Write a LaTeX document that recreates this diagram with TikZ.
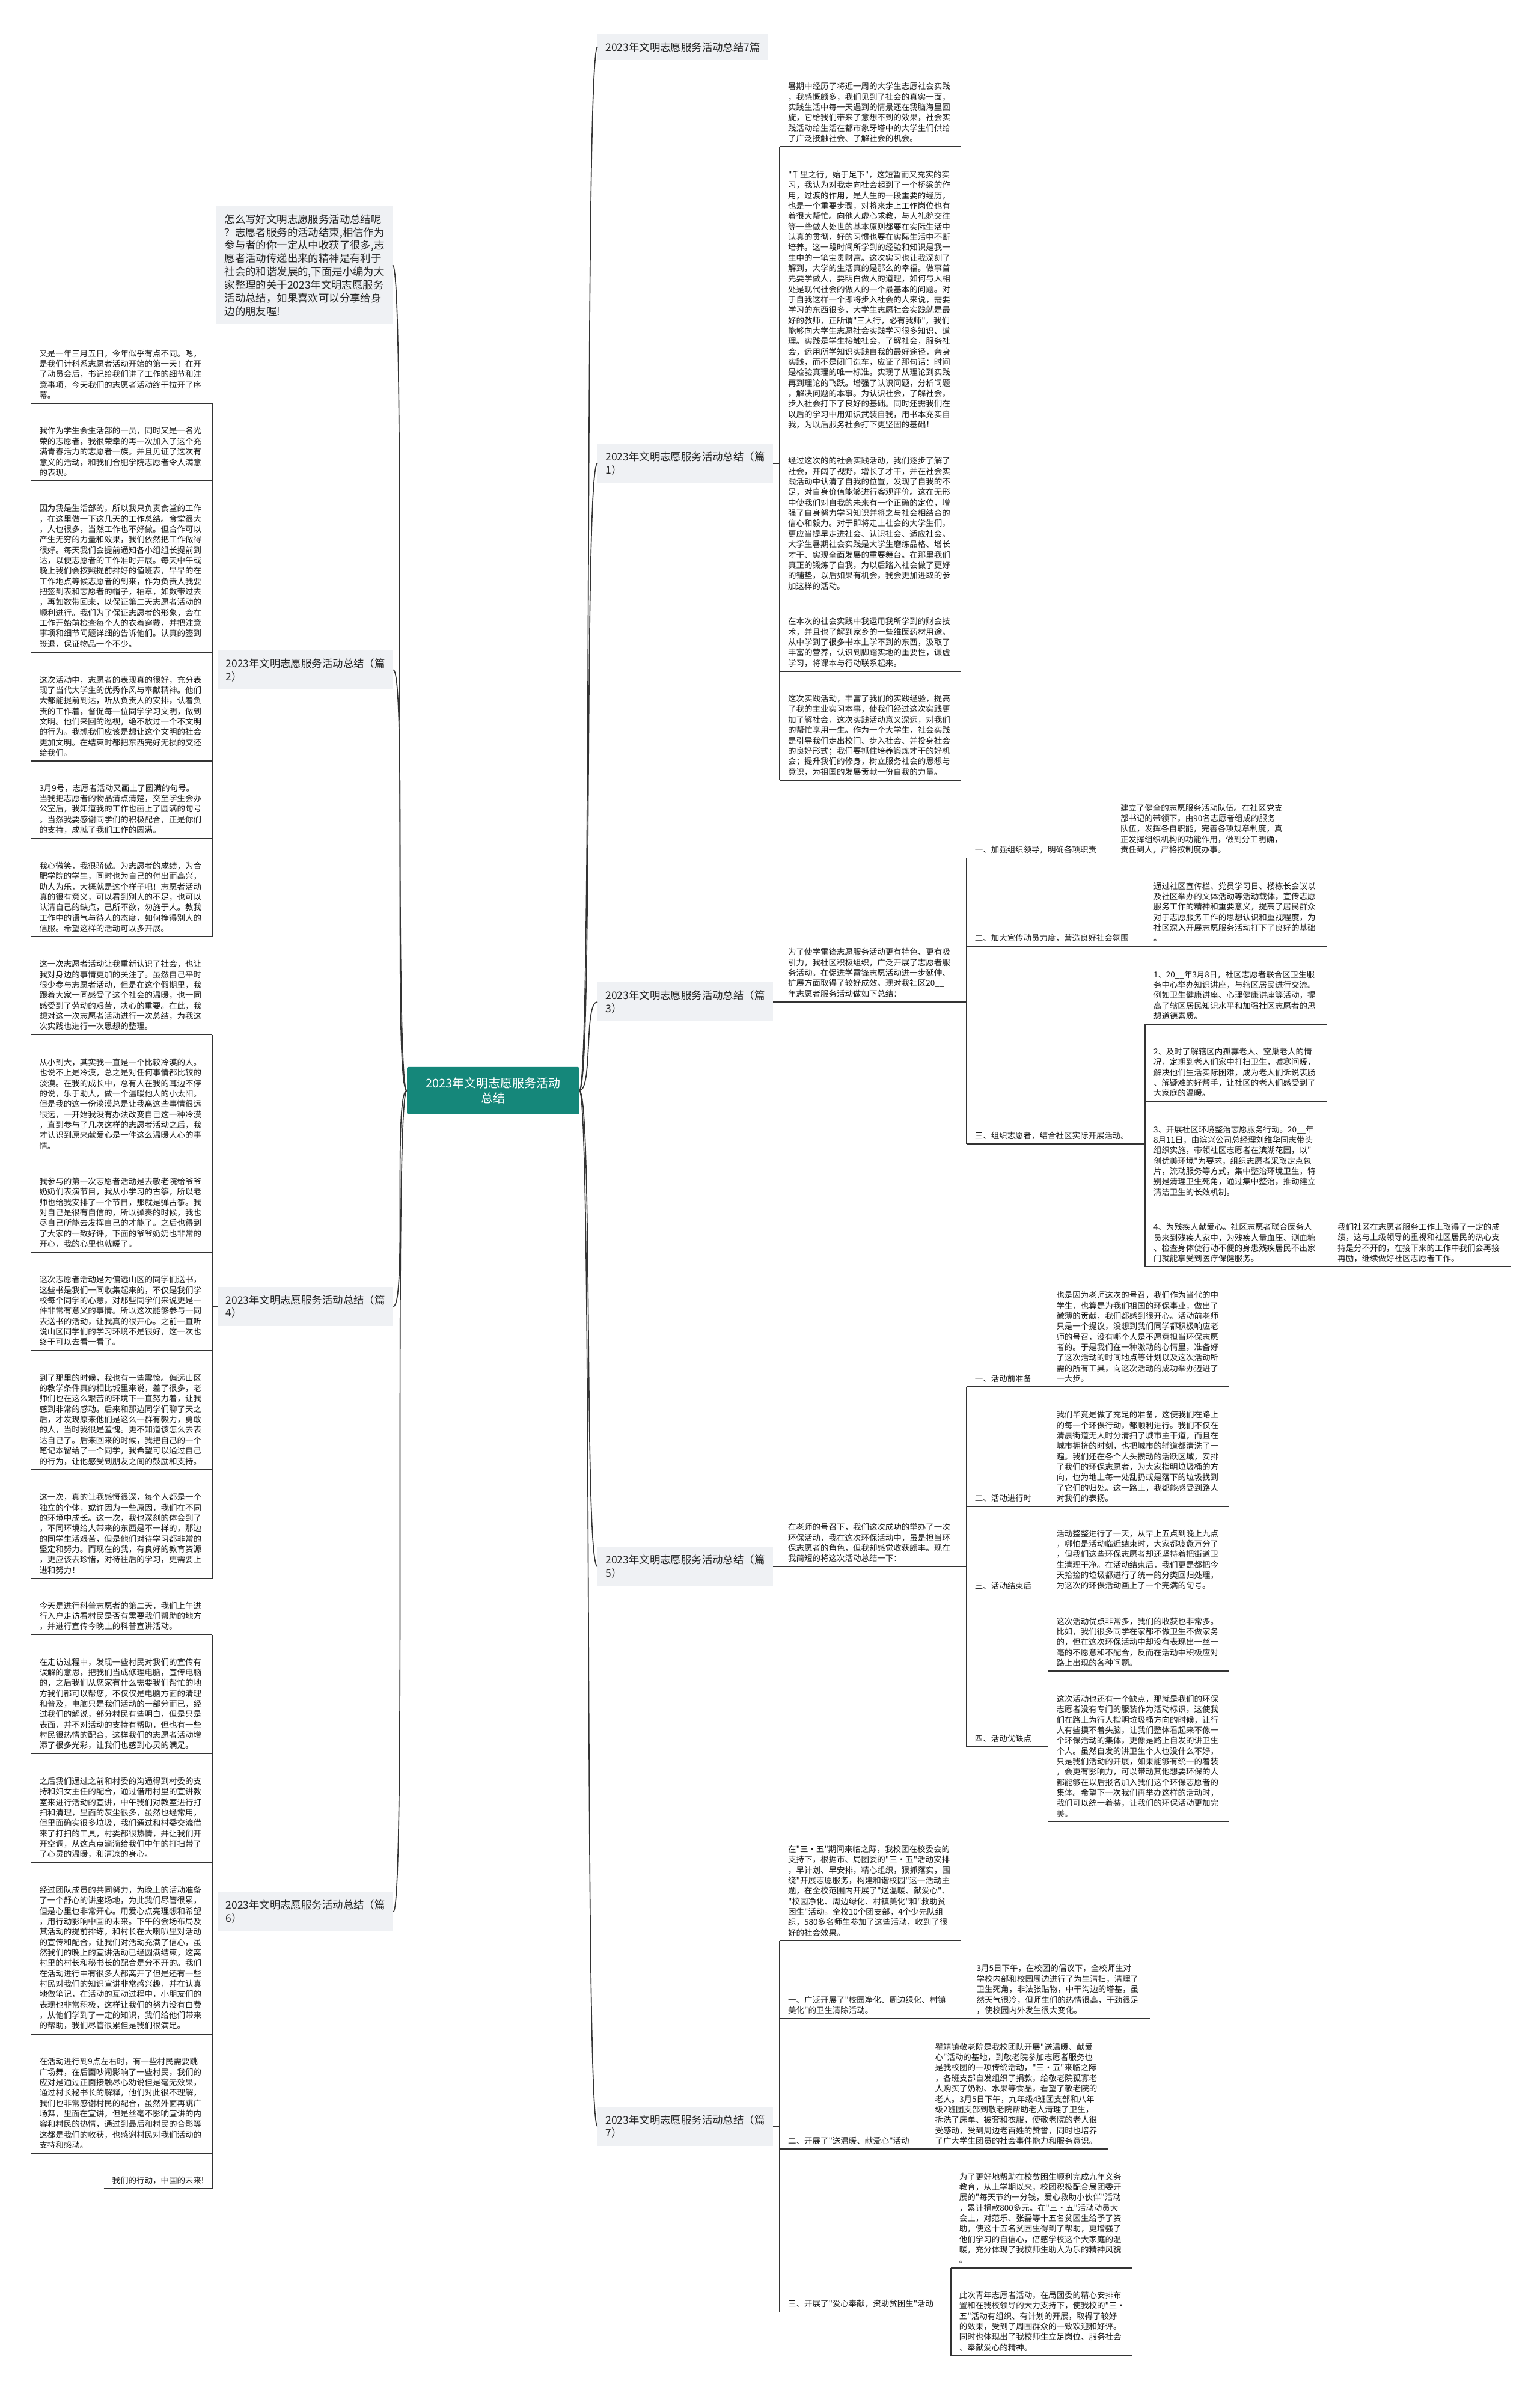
\documentclass[tikz,border=0pt]{standalone}
\usepackage{fontspec}
\newfontfamily\zhfont{Noto Sans CJK SC}
\usepackage{xcolor}
\definecolor{rootTeal}{HTML}{15877A}
\definecolor{topicGray}{HTML}{EFF1F4}
\colorlet{lineCol}{black!80}
\usetikzlibrary{positioning, calc}

\begin{document}
\begin{tikzpicture}[x=0.07604cm, y=-0.07604cm,
    root/.style={fill=rootTeal, text=white, rounded corners=2pt, align=center,
      minimum width=8.59cm, minimum height=2.36cm,
      font=\zhfont\fontsize{17pt}{22pt}\selectfont},
    topic/.style={fill=topicGray, text=black!85, align=left,
      inner xsep=0.4cm, inner ysep=0.4cm,
      font=\zhfont\fontsize{14.85pt}{18.7pt}\selectfont},
    leaf/.style={text width=8.21cm, align=left, inner xsep=0.418cm, inner ysep=6pt,
      text=black!90, font=\zhfont\fontsize{11.5pt}{14.8pt}\selectfont},
    sub/.style={align=left, inner xsep=0.418cm, inner ysep=6pt,
      text=black!90, font=\zhfont\fontsize{11.5pt}{14.8pt}\selectfont},
    conn/.style={draw=lineCol, line width=1.4pt}
  ]
  \fill[white] (0,0) rectangle (1010,1568);
  \useasboundingbox (0,0) rectangle (1010,1568);

  % ===== Root and first level =====
  \node[root] (root) at (323.5,715.5) {2023年文明志愿服务活动\\总结};

  \node[topic, anchor=east] (intro) at (257.6,174) {怎么写好文明志愿服务活动总结呢\\？志愿者服务的活动结束,相信作为\\参与者的你一定从中收获了很多,志\\愿者活动传递出来的精神是有利于\\社会的和谐发展的,下面是小编为大\\家整理的关于2023年文明志愿服务\\活动总结，如果喜欢可以分享给身\\边的朋友喔!};
  \node[topic, anchor=east] (p2) at (258,439.5) {2023年文明志愿服务活动总结（篇\\2）};
  \node[topic, anchor=east] (p4) at (258,857.1) {2023年文明志愿服务活动总结（篇\\4）};
  \node[topic, anchor=east] (p6) at (258,1254.2) {2023年文明志愿服务活动总结（篇\\6）};

  \node[topic, anchor=west] (t7) at (392,31) {2023年文明志愿服务活动总结7篇};
  \node[topic, anchor=west] (p1) at (392,304) {2023年文明志愿服务活动总结（篇\\1）};
  \node[topic, anchor=west] (p3) at (392,657.3) {2023年文明志愿服务活动总结（篇\\3）};
  \node[topic, anchor=west] (p5) at (392,1027.8) {2023年文明志愿服务活动总结（篇\\5）};
  \node[topic, anchor=west] (p7) at (392,1395) {2023年文明志愿服务活动总结（篇\\7）};

  % ===== Left column: 篇2 =====
  \node[leaf, anchor=south east] (a1) at (139.4,264.6) {又是一年三月五日，今年似乎有点不同。嗯，\\是我们计科系志愿者活动开始的第一天！在开\\了动员会后，书记给我们讲了工作的细节和注\\意事项，今天我们的志愿者活动终于拉开了序\\幕。};
  \node[leaf, anchor=south east] (a2) at (139.4,315.4) {我作为学生会生活部的一员，同时又是一名光\\荣的志愿者，我很荣幸的再一次加入了这个充\\满青春活力的志愿者一族。并且见证了这次有\\意义的活动，和我们合肥学院志愿者令人满意\\的表现。};
  \node[leaf, anchor=south east] (a3) at (139.4,427.9) {因为我是生活部的，所以我只负责食堂的工作\\，在这里做一下这几天的工作总结。食堂很大\\，人也很多，当然工作也不好做。但合作可以\\产生无穷的力量和效果，我们依然把工作做得\\很好。每天我们会提前通知各小组组长提前到\\达，以便志愿者的工作准时开展。每天中午或\\晚上我们会按照提前排好的值班表，早早的在\\工作地点等候志愿者的到来，作为负责人我要\\把签到表和志愿者的帽子，袖章，如数带过去\\，再如数带回来，以保证第二天志愿者活动的\\顺利进行。我们为了保证志愿者的形象，会在\\工作开始前检查每个人的衣着穿戴，并把注意\\事项和细节问题详细的告诉他们。认真的签到\\签退，保证物品一个不少。};
  \node[leaf, anchor=south east] (a4) at (139.4,499.2) {这次活动中，志愿者的表现真的很好，充分表\\现了当代大学生的优秀作风与奉献精神。他们\\大都能提前到达，听从负责人的安排，认着负\\责的工作着，督促每一位同学学习文明，做到\\文明。他们来回的巡视，绝不放过一个不文明\\的行为。我想我们应该是想让这个文明的社会\\更加文明。在结束时都把东西完好无损的交还\\给我们。};
  \node[leaf, anchor=south east] (a5) at (139.4,549.9) {3月9号，志愿者活动又画上了圆满的句号。\\当我把志愿者的物品清点清楚，交至学生会办\\公室后，我知道我的工作也画上了圆满的句号\\。当然我要感谢同学们的积极配合，正是你们\\的支持，成就了我们工作的圆满。};
  \node[leaf, anchor=south east] (a6) at (139.4,614.4) {我心微笑，我很骄傲。为志愿者的成绩，为合\\肥学院的学生，同时也为自己的付出而高兴，\\助人为乐，大概就是这个样子吧！志愿者活动\\真的很有意义，可以看到别人的不足，也可以\\认清自己的缺点，己所不欲，勿施于人。教我\\工作中的语气与待人的态度，如何挣得别人的\\信服。希望这样的活动可以多开展。};

  % ===== Left column: 篇4 =====
  \node[leaf, anchor=south east] (b1) at (139.4,678.8) {这一次志愿者活动让我重新认识了社会，也让\\我对身边的事情更加的关注了。虽然自己平时\\很少参与志愿者活动，但是在这个假期里，我\\跟着大家一同感受了这个社会的温暖，也一同\\感受到了劳动的艰苦，决心的重要。在此，我\\想对这一次志愿者活动进行一次总结，为我这\\次实践也进行一次思想的整理。};
  \node[leaf, anchor=south east] (b2) at (139.4,757.0) {从小到大，其实我一直是一个比较冷漠的人。\\也说不上是冷漠，总之是对任何事情都比较的\\淡漠。在我的成长中，总有人在我的耳边不停\\的说，乐于助人，做一个温暖他人的小太阳。\\但是我的这一份淡漠总是让我离这些事情很远\\很远，一开始我没有办法改变自己这一种冷漠\\，直到参与了几次这样的志愿者活动之后，我\\才认识到原来献爱心是一件这么温暖人心的事\\情。};
  \node[leaf, anchor=south east] (b3) at (139.4,821.5) {我参与的第一次志愿者活动是去敬老院给爷爷\\奶奶们表演节目，我从小学习的古筝，所以老\\师也给我安排了一个节目，那就是弹古筝。我\\对自己是很有自信的，所以弹奏的时候，我也\\尽自己所能去发挥自己的才能了。之后也得到\\了大家的一致好评，下面的爷爷奶奶也非常的\\开心，我的心里也就暖了。};
  \node[leaf, anchor=south east] (b4) at (139.4,885.9) {这次志愿者活动是为偏远山区的同学们送书，\\这些书是我们一同收集起来的，不仅是我们学\\校每个同学的心意，对那些同学们来说更是一\\件非常有意义的事情。所以这次能够参与一同\\去送书的活动，让我真的很开心。之前一直听\\说山区同学们的学习环境不是很好，这一次也\\终于可以去看一看了。};
  \node[leaf, anchor=south east] (b5) at (139.4,964.1) {到了那里的时候，我也有一些震惊。偏远山区\\的教学条件真的相比城里来说，差了很多，老\\师们也在这么艰苦的环境下一直努力着，让我\\感到非常的感动。后来和那边同学们聊了天之\\后，才发现原来他们是这么一群有毅力，勇敢\\的人，当时我很是羞愧。更不知道该怎么去表\\达自己了。后来回来的时候，我把自己的一个\\笔记本留给了一个同学，我希望可以通过自己\\的行为，让他感受到朋友之间的鼓励和支持。};
  \node[leaf, anchor=south east] (b6) at (139.4,1035.4) {这一次，真的让我感慨很深，每个人都是一个\\独立的个体，或许因为一些原因，我们在不同\\的环境中成长。这一次，我也深刻的体会到了\\，不同环境给人带来的东西是不一样的，那边\\的同学生活艰苦，但是他们对待学习都非常的\\坚定和努力。而现在的我，有良好的教育资源\\，更应该去珍惜，对待往后的学习，更需要上\\进和努力！};

  % ===== Left column: 篇6 =====
  \node[leaf, anchor=south east] (c1) at (139.4,1072.5) {今天是进行科普志愿者的第二天，我们上午进\\行入户走访看村民是否有需要我们帮助的地方\\，并进行宣传今晚上的科普宣讲活动。};
  \node[leaf, anchor=south east] (c2) at (139.4,1150.6) {在走访过程中，发现一些村民对我们的宣传有\\误解的意思，把我们当成修理电脑，宣传电脑\\的，之后我们从您家有什么需要我们帮忙的地\\方我们都可以帮您，不仅仅是电脑方面的清理\\和普及，电脑只是我们活动的一部分而已，经\\过我们的解说，部分村民有些明白，但是只是\\表面，并不对活动的支持有帮助，但也有一些\\村民很热情的配合，这样我们的志愿者活动增\\添了很多光彩，让我们也感到心灵的满足。};
  \node[leaf, anchor=south east] (c3) at (139.4,1222.0) {之后我们通过之前和村委的沟通得到村委的支\\持和妇女主任的配合，通过借用村里的宣讲教\\室来进行活动的宣讲，中午我们对教室进行打\\扫和清理，里面的灰尘很多，虽然也经常用，\\但里面确实很多垃圾，我们通过和村委交流借\\来了打扫的工具，村委都很热情，并让我们开\\开空调，从这点点滴滴给我们中午的打扫带了\\了心灵的温暖，和清凉的身心。};
  \node[leaf, anchor=south east] (c4) at (139.4,1334.4) {经过团队成员的共同努力，为晚上的活动准备\\了一个舒心的讲座场地，为此我们尽管很累，\\但是心里也非常开心。用爱心点亮理想和希望\\，用行动影响中国的未来。下午的会场布局及\\其活动的提前排练，和村长在大喇叭里对活动\\的宣传和配合，让我们对活动充满了信心，虽\\然我们的晚上的宣讲活动已经圆满结束，这离\\村里的村长和秘书长的配合是分不开的。我们\\在活动进行中有很多人都离开了但是还有一些\\村民对我们的知识宣讲非常感兴趣，并在认真\\地做笔记，在活动的互动过程中，小朋友们的\\表现也非常积极，这样让我们的努力没有白费\\，从他们学到了一定的知识，我们给他们带来\\的帮助，我们尽管很累但是我们很满足。};
  \node[leaf, anchor=south east] (c5) at (139.4,1412.6) {在活动进行到9点左右时，有一些村民需要跳\\广场舞，在后面吵闹影响了一些村民，我们的\\应对是通过正面接触尽心劝说但是毫无效果，\\通过村长秘书长的解释，他们对此很不理解，\\我们也非常感谢村民的配合，虽然外面再跳广\\场舞，里面在宣讲，但是丝毫不影响宣讲的内\\容和村民的热情，通过到最后和村民的合影等\\这都是我们的收获，也感谢村民对我们活动的\\支持和感动。};
  \node[sub, anchor=south east] (c6) at (139.4,1435.9) {我们的行动，中国的未来!};

  % ===== Right column: 篇1 =====
  \node[leaf, anchor=south west] (d1) at (511.5,96.2) {暑期中经历了将近一周的大学生志愿社会实践\\，我感慨颇多，我们见到了社会的真实一面，\\实践生活中每一天遇到的情景还在我脑海里回\\旋，它给我们带来了意想不到的效果，社会实\\践活动给生活在都市象牙塔中的大学生们供给\\了广泛接触社会、了解社会的机会。};
  \node[leaf, anchor=south west] (d2) at (511.5,284.1) {"千里之行，始于足下"，这短暂而又充实的实\\习，我认为对我走向社会起到了一个桥梁的作\\用，过渡的作用，是人生的一段重要的经历，\\也是一个重要步骤，对将来走上工作岗位也有\\着很大帮忙。向他人虚心求教，与人礼貌交往\\等一些做人处世的基本原则都要在实际生活中\\认真的贯彻，好的习惯也要在实际生活中不断\\培养。这一段时间所学到的经验和知识是我一\\生中的一笔宝贵财富。这次实习也让我深刻了\\解到，大学的生活真的是那么的幸福。做事首\\先要学做人，要明白做人的道理，如何与人相\\处是现代社会的做人的一个最基本的问题。对\\于自我这样一个即将步入社会的人来说，需要\\学习的东西很多，大学生志愿社会实践就是最\\好的教师，正所谓"三人行，必有我师"，我们\\能够向大学生志愿社会实践学习很多知识、道\\理。实践是学生接触社会，了解社会，服务社\\会，运用所学知识实践自我的最好途径，亲身\\实践，而不是闭门造车，应证了那句话：时间\\是检验真理的唯一标准。实现了从理论到实践\\再到理论的飞跃。增强了认识问题，分析问题\\，解决问题的本事。为认识社会，了解社会，\\步入社会打下了良好的基础。同时还需我们在\\以后的学习中用知识武装自我，用书本充实自\\我，为以后服务社会打下更坚固的基础！};
  \node[leaf, anchor=south west] (d3) at (511.5,389.8) {经过这次的的社会实践活动，我们逐步了解了\\社会，开阔了视野，增长了才干，并在社会实\\践活动中认清了自我的位置，发现了自我的不\\足，对自身价值能够进行客观评价。这在无形\\中使我们对自我的未来有一个正确的定位，增\\强了自身努力学习知识并将之与社会相结合的\\信心和毅力。对于即将走上社会的大学生们，\\更应当提早走进社会、认识社会、适应社会。\\大学生暑期社会实践是大学生磨练品格、增长\\才干、实现全面发展的重要舞台。在那里我们\\真正的锻炼了自我，为以后踏入社会做了更好\\的铺垫，以后如果有机会，我会更加进取的参\\加这样的活动。};
  \node[leaf, anchor=south west] (d4) at (511.5,440.5) {在本次的社会实践中我运用我所学到的财会技\\术，并且也了解到家乡的一些维医药材用途。\\从中学到了很多书本上学不到的东西，汲取了\\丰富的营养，认识到脚踏实地的重要性，谦虚\\学习，将课本与行动联系起来。};
  \node[leaf, anchor=south west] (d5) at (511.5,511.8) {这次实践活动，丰富了我们的实践经验，提高\\了我的主业实习本事，使我们经过这次实践更\\加了解社会，这次实践活动意义深远，对我们\\的帮忙享用一生。作为一个大学生，社会实践\\是引导我们走出校门、步入社会、并投身社会\\的良好形式；我们要抓住培养锻炼才干的好机\\会；提升我们的修身，树立服务社会的思想与\\意识，为祖国的发展贡献一份自我的力量。};

  % ===== 篇3 =====
  \node[leaf, anchor=south west] (e0) at (511.5,657.3) {为了使学雷锋志愿服务活动更有特色、更有吸\\引力，我社区积极组织，广泛开展了志愿者服\\务活动。在促进学雷锋志愿活动进一步延伸、\\扩展方面取得了较好成效。现对我社区20\_\_\\年志愿者服务活动做如下总结：};
  \node[sub, anchor=south west] (e1) at (634,562.9) {一、加强组织领导，明确各项职责};
  \node[sub, anchor=south west] (e2) at (634,620.7) {二、加大宣传动员力度，营造良好社会氛围};
  \node[sub, anchor=south west] (e3) at (634,750.5) {三、组织志愿者，结合社区实际开展活动。};
  \node[leaf, anchor=south west] (e1c) at (729.5,562.9) {建立了健全的志愿服务活动队伍。在社区党支\\部书记的带领下，由90名志愿者组成的服务\\队伍，发挥各自职能，完善各项规章制度，真\\正发挥组织机构的功能作用，做到分工明确，\\责任到人，严格按制度办事。};
  \node[leaf, anchor=south west] (e2c) at (751.2,620.7) {通过社区宣传栏、党员学习日、楼栋长会议以\\及社区举办的文体活动等活动载体，宣传志愿\\服务工作的精神和重要意义，提高了居民群众\\对于志愿服务工作的思想认识和重视程度，为\\社区深入开展志愿服务活动打下了良好的基础\\。};
  \node[leaf, anchor=south west] (e3a) at (751.2,671.9) {1、20\_\_年3月8日，社区志愿者联合区卫生服\\务中心举办知识讲座，与辖区居民进行交流。\\例如卫生健康讲座、心理健康讲座等活动，提\\高了辖区居民知识水平和加强社区志愿者的思\\想道德素质。};
  \node[leaf, anchor=south west] (e3b) at (751.2,722.6) {2、及时了解辖区内孤寡老人、空巢老人的情\\况，定期到老人们家中打扫卫生，嘘寒问暖，\\解决他们生活实际困难，成为老人们诉说衷肠\\、解疑难的好帮手，让社区的老人们感受到了\\大家庭的温暖。};
  \node[leaf, anchor=south west] (e3c) at (751.2,787.4) {3、开展社区环境整治志愿服务行动。20\_\_年\\8月11日，由滨兴公司总经理刘维华同志带头\\组织实施，带领社区志愿者在滨湖花园，以"\\创优美环境"为要求，组织志愿者采取定点包\\片，流动服务等方式，集中整治环境卫生，特\\别是清理卫生死角，通过集中整治，推动建立\\清洁卫生的长效机制。};
  \node[leaf, anchor=south west] (e3d) at (751.2,831.0) {4、为残疾人献爱心。社区志愿者联合医务人\\员来到残疾人家中，为残疾人量血压、测血糖\\、检查身体使行动不便的身患残疾居民不出家\\门就能享受到医疗保健服务。};
  \node[leaf, anchor=south west] (e3e) at (872,831.0) {我们社区在志愿者服务工作上取得了一定的成\\绩，这与上级领导的重视和社区居民的热心支\\持是分不开的，在接下来的工作中我们会再接\\再励，继续做好社区志愿者工作。};

  % ===== 篇5 =====
  \node[leaf, anchor=south west] (f0) at (511.5,1027.8) {在老师的号召下，我们这次成功的举办了一次\\环保活动，我在这次环保活动中，虽是担当环\\保志愿者的角色，但我却感觉收获颇丰。现在\\我简短的将这次活动总结一下：};
  \node[sub, anchor=south west] (f1) at (634,909.7) {一、活动前准备};
  \node[sub, anchor=south west] (f2) at (634,988.2) {二、活动进行时};
  \node[sub, anchor=south west] (f3) at (634,1045.6) {三、活动结束后};
  \node[sub, anchor=south west] (f4) at (634,1146.0) {四、活动优缺点};
  \node[leaf, anchor=south west] (f1c) at (687.5,909.7) {也是因为老师这次的号召，我们作为当代的中\\学生，也算是为我们祖国的环保事业，做出了\\微薄的贡献，我们都感到很开心。活动前老师\\只是一个提议，没想到我们同学都积极响应老\\师的号召，没有哪个人是不愿意担当环保志愿\\者的。于是我们在一种激动的心情里，准备好\\了这次活动的时间地点等计划以及这次活动所\\需的所有工具，向这次活动的成功举办迈进了\\一大步。};
  \node[leaf, anchor=south west] (f2c) at (687.5,988.2) {我们毕竟是做了充足的准备，这使我们在路上\\的每一个环保行动，都顺利进行。我们不仅在\\清晨街道无人时分清扫了城市主干道，而且在\\城市拥挤的时刻，也把城市的辅道都清洗了一\\遍。我们还在各个人头攒动的活跃区域，安排\\了我们的环保志愿者，为大家指明垃圾桶的方\\向，也为地上每一处乱扔或是落下的垃圾找到\\了它们的归处。这一路上，我都能感受到路人\\对我们的表扬。};
  \node[leaf, anchor=south west] (f3c) at (687.5,1045.6) {活动整整进行了一天，从早上五点到晚上九点\\，哪怕是活动临近结束时，大家都疲惫万分了\\，但我们这些环保志愿者却还坚持着把街道卫\\生清理干净。在活动结束后，我们更是都把今\\天拾捡的垃圾都进行了统一的分类回归处理，\\为这次的环保活动画上了一个完满的句号。};
  \node[leaf, anchor=south west] (f4a) at (687.5,1096.3) {这次活动优点非常多，我们的收获也非常多。\\比如，我们很多同学在家都不做卫生不做家务\\的，但在这次环保活动中却没有表现出一丝一\\毫的不愿意和不配合，反而在活动中积极应对\\路上出现的各种问题。};
  \node[leaf, anchor=south west] (f4b) at (687.5,1195.1) {这次活动也还有一个缺点，那就是我们的环保\\志愿者没有专门的服装作为活动标识，这使我\\们在路上为行人指明垃圾桶方向的时候，让行\\人有些摸不着头脑，让我们整体看起来不像一\\个环保活动的集体，更像是路上自发的讲卫生\\个人。虽然自发的讲卫生个人也没什么不好，\\只是我们活动的开展，如果能够有统一的着装\\，会更有影响力，可以带动其他想要环保的人\\都能够在以后报名加入我们这个环保志愿者的\\集体。希望下一次我们再举办这样的活动时，\\我们可以统一着装，让我们的环保活动更加完\\美。};

  % ===== 篇7 =====
  \node[leaf, anchor=south west] (g0) at (511.5,1273.2) {在"三·五"期间来临之际，我校团在校委会的\\支持下，根据市、局团委的"三·五"活动安排\\，早计划、早安排，精心组织，狠抓落实，围\\绕"开展志愿服务，构建和谐校园"这一活动主\\题，在全校范围内开展了"送温暖、献爱心"、\\"校园净化、周边绿化、村镇美化"和"救助贫\\困生"活动。全校10个团支部，4个少先队组\\织，580多名师生参加了这些活动，收到了很\\好的社会效果。};
  \node[sub, anchor=south west] (g1) at (511.5,1324.3) {一、广泛开展了"校园净化、周边绿化、村镇\\美化"的卫生清除活动。};
  \node[sub, anchor=south west] (g2) at (511.5,1409.8) {二、开展了"送温暖、献爱心"活动};
  \node[sub, anchor=south west] (g3) at (511.5,1516.9) {三、开展了"爱心奉献，资助贫困生"活动};
  \node[leaf, anchor=south west] (g1c) at (635.1,1324.3) {3月5日下午，在校团的倡议下，全校师生对\\学校内部和校园周边进行了为生清扫，清理了\\卫生死角，非法张贴物，中干沟边的塔基，虽\\然天气很冷，但师生们的热情很高，干劲很足\\，使校园内外发生很大变化。};
  \node[leaf, anchor=south west] (g2c) at (607.9,1409.8) {瞿靖镇敬老院是我校团队开展"送温暖、献爱\\心"活动的基地，到敬老院参加志愿者服务也\\是我校团的一项传统活动，"三·五"来临之际\\，各班支部自发组织了捐款，给敬老院孤寡老\\人购买了奶粉、水果等食品，看望了敬老院的\\老人。3月5日下午，九年级4班团支部和八年\\级2班团支部到敬老院帮助老人清理了卫生，\\拆洗了床单、被套和衣服，使敬老院的老人很\\受感动，受到周边老百姓的赞誉，同时也培养\\了广大学生团员的社会事件能力和服务意识。};
  \node[leaf, anchor=south west] (g3a) at (623.8,1487.9) {为了更好地帮助在校贫困生顺利完成九年义务\\教育，从上学期以来，校团积极配合局团委开\\展的"每天节约一分钱，爱心救助小伙伴"活动\\，累计捐款800多元。在"三·五"活动动员大\\会上，对范乐、张磊等十五名贫困生给予了资\\助，使这十五名贫困生得到了帮助，更增强了\\他们学习的自信心，倍感学校这个大家庭的温\\暖，充分体现了我校师生助人为乐的精神风貌\\。};
  \node[leaf, anchor=south west] (g3b) at (623.8,1545.4) {此次青年志愿者活动，在局团委的精心安排布\\置和在我校领导的大力支持下，使我校的"三·\\五"活动有组织、有计划的开展，取得了较好\\的效果，受到了周围群众的一致欢迎和好评。\\同时也体现出了我校师生立足岗位、服务社会\\、奉献爱心的精神。};

  % ===== Underlines under every text topic =====
  \foreach \n in {a1,a2,a3,a4,a5,a6,b1,b2,b3,b4,b5,b6,c1,c2,c3,c4,c5,c6,
      d1,d2,d3,d4,d5,e0,e1,e2,e3,e1c,e2c,e3a,e3b,e3c,e3d,e3e,
      f0,f1,f2,f3,f4,f1c,f2c,f3c,f4a,f4b,g0,g1,g2,g3,g1c,g2c,g3a,g3b}
    \draw[conn] (\n.south west) -- (\n.south east);

  % ===== Curves out of the root =====
  \foreach \n in {t7,p1,p3,p5,p7}
    \draw[conn] (root.east) .. controls +(9,0) and +(-9,0) .. (\n.west);
  \foreach \n in {intro,p2,p4,p6}
    \draw[conn] (root.west) .. controls +(-9,0) and +(9,0) .. (\n.east);

  % ===== Elbow connectors =====
  \foreach \n in {a1,a2,a3,a4,a5,a6} \draw[conn] (p2.west) -| (\n.south east);
  \foreach \n in {b1,b2,b3,b4,b5,b6} \draw[conn] (p4.west) -| (\n.south east);
  \foreach \n in {c1,c2,c3,c4,c5,c6} \draw[conn] (p6.west) -| (\n.south east);

  \foreach \n in {d1,d2,d3,d4,d5} \draw[conn] (p1.east) -| (\n.south west);
  \draw[conn] (p3.east) -| (e0.south west);
  \foreach \n in {e1,e2,e3} \draw[conn] (e0.south east) -| (\n.south west);
  \draw[conn] (e1.south east) -- (e1c.south west);
  \draw[conn] (e2.south east) -- (e2c.south west);
  \foreach \n in {e3a,e3b,e3c,e3d} \draw[conn] (e3.south east) -| (\n.south west);
  \draw[conn] (e3d.south east) -- (e3e.south west);

  \draw[conn] (p5.east) -| (f0.south west);
  \foreach \n in {f1,f2,f3,f4} \draw[conn] (f0.south east) -| (\n.south west);
  \draw[conn] (f1.south east) -- (f1c.south west);
  \draw[conn] (f2.south east) -- (f2c.south west);
  \draw[conn] (f3.south east) -- (f3c.south west);
  \foreach \n in {f4a,f4b} \draw[conn] (f4.south east) -| (\n.south west);

  \foreach \n in {g0,g1,g2,g3} \draw[conn] (p7.east) -| (\n.south west);
  \draw[conn] (g1.south east) -- (g1c.south west);
  \draw[conn] (g2.south east) -- (g2c.south west);
  \foreach \n in {g3a,g3b} \draw[conn] (g3.south east) -| (\n.south west);
\end{tikzpicture}
\end{document}
